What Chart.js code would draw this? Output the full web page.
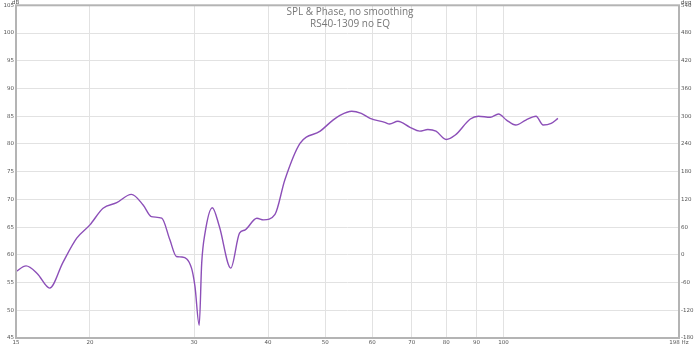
<!DOCTYPE html>
<html>
<head>
<meta charset="utf-8">
<script src="https://cdn.jsdelivr.net/npm/chart.js@4"></script>
<style>
  html, body { margin: 0; background: #fff; overflow: hidden; }
  #wrap { width: 700px; height: 347px; }
  canvas { display: block; }
</style>
</head>
<body>
<div id="wrap"><canvas id="c"></canvas></div>
<script>
// frequency (Hz) and SPL (dB)
const freqs = [15, 15.6, 16.3, 17.1, 18.0, 19.0, 20, 21.05, 22.2, 23.5, 24.6, 25.4, 26.45, 27.3,
  28.0, 28.6, 29.7, 30.1, 30.6, 30.9, 31.3, 32.2, 33.1, 34.6, 35.8, 36.6, 38.3, 39.3, 41.1, 42.7,
  45.3, 49.0, 51.5, 53.0, 55.4, 57.5, 59.5, 63.0, 64.2, 66.3, 69.5, 72.2, 74.5, 76.9, 80.0, 82.9,
  87.9, 90.7, 95.0, 98.1, 101.2, 104.9, 109.1, 113.5, 116.7, 120.4, 123.6];
const spl = [57.0, 58.0, 56.6, 54.0, 58.6, 63.0, 65.4, 68.4, 69.4, 70.9, 69.0, 66.9, 66.6, 62.7,
  59.7, 59.6, 57.6, 54.3, 47.3, 58.5, 63.9, 68.5, 65.1, 57.6, 63.9, 64.5, 66.6, 66.3, 67.3, 73.5,
  80.1, 82.3, 84.3, 85.2, 85.9, 85.5, 84.6, 83.9, 83.6, 84.1, 83.0, 82.3, 82.6, 82.3, 80.8, 81.6,
  84.5, 85.0, 84.8, 85.4, 84.3, 83.4, 84.3, 85.0, 83.4, 83.7, 84.6];

const xTicks = [15, 20, 30, 40, 50, 60, 70, 80, 90, 100, 198];
const dbMin = 45, dbMax = 105, dbStep = 5;
const degMin = -180, degMax = 540, degStep = 60;
const titleLines = ['SPL & Phase, no smoothing', 'RS40-1309 no EQ'];

const tickFont = { family: 'DejaVu Sans', size: 5.5 };
const tickColor = '#555';

const overlay = {
  id: 'overlay',
  afterDraw(chart) {
    const ctx = chart.ctx, a = chart.chartArea;
    ctx.save();
    ctx.fillStyle = '#777';
    ctx.font = '10px "Open Sans"';
    ctx.textAlign = 'center';
    ctx.textBaseline = 'middle';
    ctx.fillText(titleLines[0], 350, 12);
    ctx.fillText(titleLines[1], 350, 24);
    ctx.font = '5.5px "DejaVu Sans"';
    ctx.fillStyle = tickColor;
    ctx.textAlign = 'left';
    ctx.fillText('dB', 12, 2.5);
    ctx.fillText('deg', 681, 2.5);
    // frame
    ctx.strokeStyle = '#b4b4b4';
    ctx.lineWidth = 2;
    ctx.strokeRect(a.left, a.top, a.right - a.left, a.bottom - a.top);
    ctx.restore();
  }
};

new Chart(document.getElementById('c'), {
  type: 'line',
  data: {
    datasets: [{
      data: freqs.map((f, i) => ({ x: f, y: spl[i] })),
      borderColor: '#8c4fb8',
      borderWidth: 1.4,
      pointRadius: 0,
      fill: false,
      cubicInterpolationMode: 'monotone',
      yAxisID: 'y'
    }]
  },
  options: {
    responsive: true,
    maintainAspectRatio: false,
    animation: false,
    layout: { padding: { top: 5, left: 0, right: 0, bottom: 0 } },
    plugins: { legend: { display: false }, tooltip: { enabled: false } },
    scales: {
      x: {
        type: 'logarithmic',
        min: 15,
        max: 198,
        afterBuildTicks: s => { s.ticks = xTicks.map(v => ({ value: v })); },
        afterFit: s => { s.height = 9; },
        ticks: {
          autoSkip: false,
          maxRotation: 0,
          padding: 1,
          font: tickFont,
          color: tickColor,
          callback: v => v === 198 ? '198 Hz' : String(v)
        },
        grid: { color: '#e2e2e2', drawTicks: false },
        border: { display: false }
      },
      y: {
        position: 'left',
        min: dbMin,
        max: dbMax,
        afterFit: s => { s.width = 16; },
        ticks: { stepSize: dbStep, padding: 2, font: tickFont, color: tickColor },
        grid: { color: '#e2e2e2', drawTicks: false },
        border: { display: false }
      },
      y2: {
        position: 'right',
        min: degMin,
        max: degMax,
        afterFit: s => { s.width = 21; },
        ticks: { stepSize: degStep, padding: 2, font: tickFont, color: tickColor },
        grid: { display: false, drawTicks: false },
        border: { display: false }
      }
    }
  },
  plugins: [overlay]
});
</script>
</body>
</html>
